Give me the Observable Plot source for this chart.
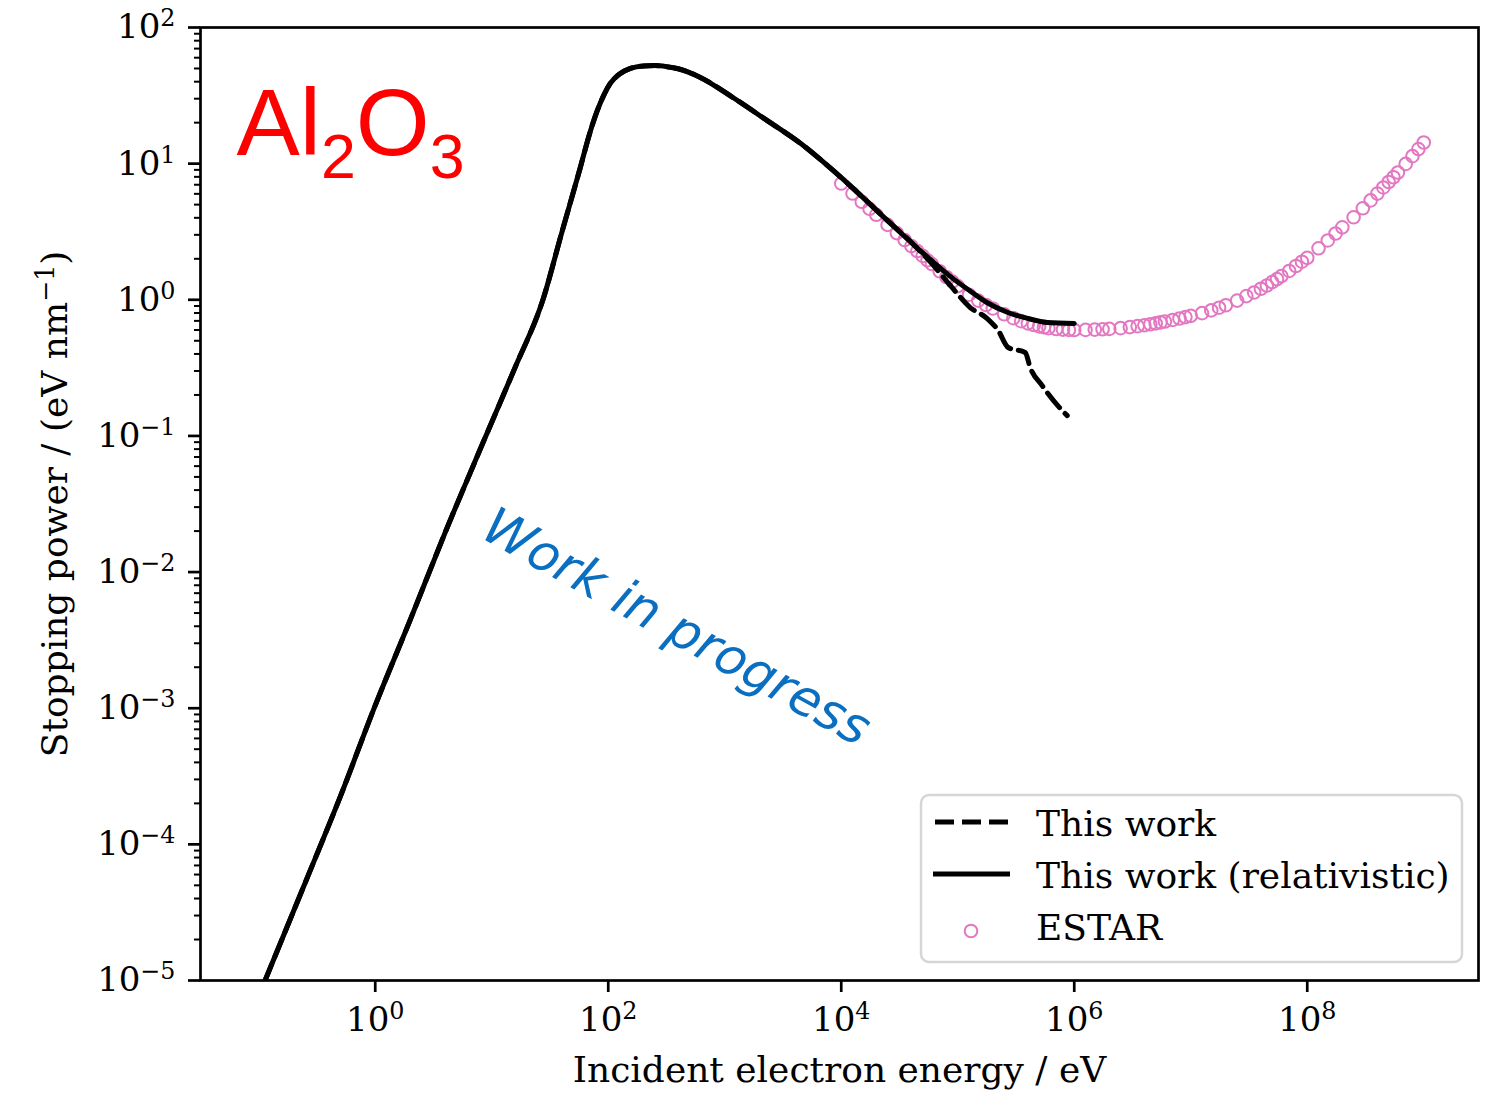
<!DOCTYPE html>
<html>
<head>
<meta charset="utf-8">
<script src="https://cdn.jsdelivr.net/npm/d3@7"></script>
<script src="https://cdn.jsdelivr.net/npm/@observablehq/plot@0.6"></script>
<style>
  html, body { margin: 0; padding: 0; background: #fff; }
  #wrap { position: relative; width: 1498px; height: 1093px; overflow: hidden; }
  #wrap > svg { position: absolute; left: 0; top: 0; }
</style>
</head>
<body>
<div id="wrap"></div>
<script>
// ---------------- data ----------------
// Incident electron energy (eV) and stopping power (eV/nm)
const solidEnergy = [0.112, 0.251, 0.501, 1.0, 2.0, 3.98, 7.94, 15.8, 27.5, 39.8,
  57.5, 69.2, 80.5, 91.2, 104, 126, 155, 200, 251, 316,
  398, 617, 1175, 2317, 4467, 8511, 14125, 25119, 47863, 91201,
  125893, 177828, 269153, 398107, 588844, 1000000];
const solidPower = [9.77e-6, 5.25e-5, 2.24e-4, 1.05e-3, 4.47e-3, 1.95e-2, 7.94e-2, 0.316, 1.0, 3.09,
  9.33, 16.6, 24.5, 31.6, 38.8, 45.7, 50.1, 52.2, 52.5, 51.6,
  49.8, 43.0, 30.6, 20.7, 14.1, 8.91, 6.03, 3.80, 2.29, 1.43,
  1.17, 0.955, 0.807, 0.730, 0.681, 0.670];

const dashedEnergy = [0.112, 0.251, 0.501, 1.0, 2.0, 3.98, 7.94, 15.8, 27.5, 39.8,
  57.5, 69.2, 80.5, 91.2, 104, 126, 155, 200, 251, 316,
  398, 617, 1175, 2317, 4467, 8511, 14125, 25119, 39811, 47863,
  58076, 86298, 127938, 179061, 222844, 271019, 379315, 418794, 530884, 758578, 870964];
const dashedPower = [9.77e-6, 5.25e-5, 2.24e-4, 1.05e-3, 4.47e-3, 1.95e-2, 7.94e-2, 0.316, 1.0, 3.09,
  9.33, 16.6, 24.5, 31.6, 38.8, 45.7, 50.1, 52.2, 52.5, 51.6,
  49.8, 43.0, 30.6, 20.7, 14.1, 8.91, 6.03, 3.80, 2.65, 2.26,
  1.905, 1.274, 0.877, 0.728, 0.594, 0.446, 0.410, 0.318, 0.234, 0.159, 0.141];

const estarEnergy = [
  1e4, 1.25e4, 1.5e4, 1.75e4, 2e4, 2.5e4, 3e4, 3.5e4, 4e4, 4.5e4, 5e4, 5.5e4, 6e4, 7e4, 8e4, 9e4,
  1e5, 1.25e5, 1.5e5, 1.75e5, 2e5, 2.5e5, 3e5, 3.5e5, 4e5, 4.5e5, 5e5, 5.5e5, 6e5, 7e5, 8e5, 9e5,
  1e6, 1.25e6, 1.5e6, 1.75e6, 2e6, 2.5e6, 3e6, 3.5e6, 4e6, 4.5e6, 5e6, 5.5e6, 6e6, 7e6, 8e6, 9e6,
  1e7, 1.25e7, 1.5e7, 1.75e7, 2e7, 2.5e7, 3e7, 3.5e7, 4e7, 4.5e7, 5e7, 5.5e7, 6e7, 7e7, 8e7, 9e7,
  1e8, 1.25e8, 1.5e8, 1.75e8, 2e8, 2.5e8, 3e8, 3.5e8, 4e8, 4.5e8, 5e8, 5.5e8, 6e8, 7e8, 8e8, 9e8,
  1e9];
const estarPower = [
  7.14, 6.03, 5.25, 4.66, 4.21, 3.55, 3.09, 2.75, 2.48, 2.28, 2.10, 1.95, 1.83, 1.62, 1.47, 1.36,
  1.26, 1.09, 0.986, 0.916, 0.863, 0.783, 0.733, 0.697, 0.671, 0.653, 0.638, 0.628, 0.619, 0.610, 0.604, 0.601,
  0.600, 0.601, 0.604, 0.607, 0.611, 0.619, 0.630, 0.640, 0.650, 0.661, 0.671, 0.682, 0.692, 0.711, 0.729, 0.746,
  0.762, 0.798, 0.836, 0.875, 0.912, 0.986, 1.064, 1.132, 1.205, 1.274, 1.349, 1.419, 1.493, 1.629, 1.770, 1.905,
  2.032, 2.388, 2.729, 3.069, 3.404, 4.036, 4.699, 5.370, 6.026, 6.684, 7.328, 7.943, 8.610, 9.954, 11.35, 12.79,
  14.29];

const xTicks = [1, 1e2, 1e4, 1e6, 1e8];
const yTicks = [1e-5, 1e-4, 1e-3, 1e-2, 1e-1, 1, 1e1, 1e2];
const seriesNames = ["This work", "This work (relativistic)", "ESTAR"];
const xLabel = "Incident electron energy / eV";
const yLabel = "Stopping power / (eV nm^{−1})";
const material = "Al_{2}O_{3}";
const watermark = "Work in progress";

// ---------------- layout ----------------
const W = 1498, H = 1093;
const fr = {left: 200, right: 1478, top: 27, bottom: 980};
const pink = "#e377c2";

const solid = solidEnergy.map((E, i) => ({E, S: solidPower[i]}));
const dashed = dashedEnergy.map((E, i) => ({E, S: dashedPower[i]}));
const estar = estarEnergy.map((E, i) => ({E, S: estarPower[i]}));

const minorY = [];
for (let p = -5; p < 2; p++) for (let m = 2; m < 10; m++) minorY.push(m * Math.pow(10, p));

const expFmt = d => {
  const e = Math.round(Math.log10(d));
  return `10^{${e < 0 ? "\u2212" + (-e) : e}}`;
};

const chart = Plot.plot({
  width: W, height: H,
  marginLeft: fr.left, marginRight: W - fr.right, marginTop: fr.top, marginBottom: H - fr.bottom,
  style: {fontFamily: "'DejaVu Serif', serif", fontSize: "34px", color: "#000", background: "transparent", overflow: "visible"},
  x: {type: "log", domain: [Math.pow(10, -1.5), Math.pow(10, 9.47)]},
  y: {type: "log", domain: [1e-5, 1e2]},
  marks: [
    Plot.dot(estar, {x: "E", y: "S", r: 6.3, stroke: pink, strokeWidth: 2, fill: "none"}),
    Plot.line(dashed, {x: "E", y: "S", stroke: "#000", strokeWidth: 5, strokeDasharray: "19,8", curve: "monotone-x", clip: true}),
    Plot.line(solid, {x: "E", y: "S", stroke: "#000", strokeWidth: 5, curve: "monotone-x", clip: true}),
    Plot.axisX({ticks: xTicks, tickFormat: expFmt, tickSize: 12, tickPadding: 14, strokeWidth: 2.7, label: null, fontSize: 34}),
    Plot.axisY({ticks: yTicks, tickFormat: expFmt, tickSize: 12, tickPadding: 13, strokeWidth: 2.7, label: null, fontSize: 34}),
    Plot.axisY({ticks: minorY, tickFormat: () => "", tickSize: 6, strokeWidth: 2, label: null}),
    Plot.frame({stroke: "#000", strokeWidth: 2.7}),
    Plot.text([xLabel], {frameAnchor: "bottom", dy: 90, text: d => d, fontSize: 36, textAnchor: "middle", lineAnchor: "middle"}),
    Plot.text([yLabel], {frameAnchor: "left", dx: -145, rotate: -90, text: d => d, fontSize: 36, textAnchor: "middle", lineAnchor: "middle"}),
    Plot.text([material], {frameAnchor: "top-left", dx: 36, dy: 97, text: d => d, fontSize: 95, fontFamily: "'Liberation Sans', Arial, sans-serif", fill: "#ff0000", textAnchor: "start", lineAnchor: "middle"}),
    Plot.text([watermark], {frameAnchor: "top-left", dx: 476, dy: 600, rotate: 29, text: d => d, fontSize: 51, fontStyle: "italic", fontFamily: "'DejaVu Sans', sans-serif", fill: "#0a6fc0", textAnchor: "middle", lineAnchor: "middle"})
  ]
});

const wrap = document.getElementById("wrap");
wrap.appendChild(chart);

// turn ^{..} and _{..} into real superscript / subscript tspans
function scriptify(root) {
  root.querySelectorAll("text").forEach(t => {
    const s = t.textContent;
    if (!/[\^_]\{/.test(s)) return;
    const fs = parseFloat(getComputedStyle(t).fontSize) || 34;
    const parts = s.split(/(\^\{[^}]*\}|_\{[^}]*\})/).filter(p => p !== "");
    while (t.firstChild) t.removeChild(t.firstChild);
    let shift = 0;
    parts.forEach(p => {
      const ts = document.createElementNS("http://www.w3.org/2000/svg", "tspan");
      let target = 0, size = fs, txt = p;
      if (p.startsWith("^{")) { target = -0.35 * fs; size = 0.7 * fs; txt = p.slice(2, -1); }
      else if (p.startsWith("_{")) { target = 0.24 * fs; size = 0.66 * fs; txt = p.slice(2, -1); }
      const dy = target - shift;
      if (dy !== 0) ts.setAttribute("dy", dy.toFixed(2));
      shift = target;
      ts.setAttribute("font-size", size.toFixed(2));
      ts.textContent = txt;
      t.appendChild(ts);
    });
  });
}
scriptify(chart);

// legend box in the lower right of the frame
const leg = d3.select(wrap).append("svg")
  .attr("width", W).attr("height", H)
  .style("font-family", "'DejaVu Serif', serif").style("font-size", "36px");
leg.append("rect").attr("x", 921).attr("y", 795).attr("width", 541).attr("height", 167)
  .attr("rx", 8).attr("fill", "#fff").attr("fill-opacity", 0.8)
  .attr("stroke", "#d6d6d6").attr("stroke-width", 2.5);
leg.append("line").attr("x1", 935).attr("x2", 1008).attr("y1", 822).attr("y2", 822)
  .attr("stroke", "#000").attr("stroke-width", 5).attr("stroke-dasharray", "19,8");
leg.append("line").attr("x1", 933).attr("x2", 1010).attr("y1", 874).attr("y2", 874)
  .attr("stroke", "#000").attr("stroke-width", 5);
leg.append("circle").attr("cx", 971).attr("cy", 931).attr("r", 6.3)
  .attr("fill", "none").attr("stroke", pink).attr("stroke-width", 2);
seriesNames.forEach((name, i) => {
  leg.append("text").attr("x", 1036).attr("y", 836 + i * 52).attr("fill", "#000").text(name);
});
</script>
</body>
</html>
